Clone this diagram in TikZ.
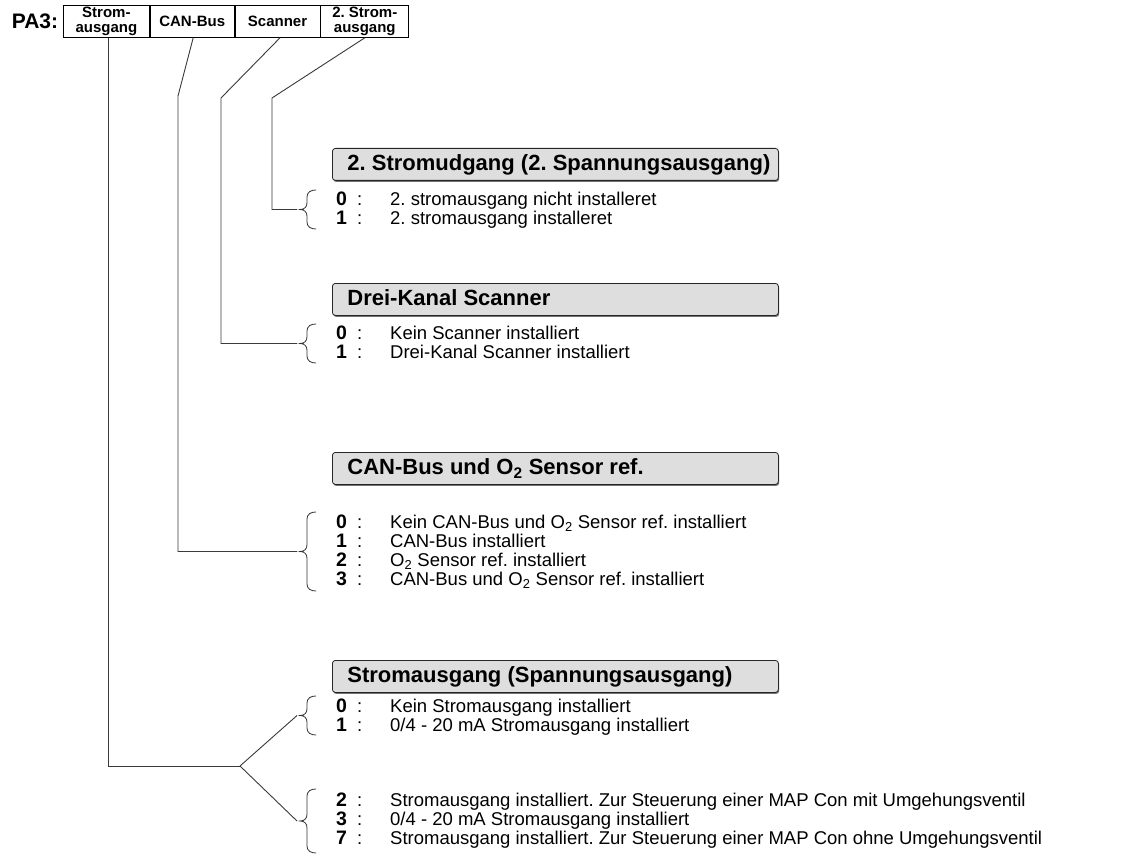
\documentclass[tikz,border=0pt]{standalone}
\usepackage{fontspec}
\setmainfont{Liberation Sans}
\usetikzlibrary{shadows}
\definecolor{hdrfill}{HTML}{DEDEDE}
\definecolor{linecol}{HTML}{3A3A3A}
\tikzset{
 cell/.style={draw=black, line width=0.8pt, minimum height=32pt, inner sep=0pt, anchor=north west, align=center, font=\fontsize{15}{15}\selectfont\bfseries},
 hdr/.style={draw=black!85, line width=0.8pt, fill=hdrfill, rounded corners=3pt, anchor=north west, minimum height=32pt, inner xsep=15pt, inner ysep=0pt, font=\fontsize{22}{25}\selectfont\bfseries, text height=16pt, text depth=4pt, drop shadow={shadow xshift=0.8pt, shadow yshift=-1.5pt, fill=black!55, opacity=1}},
 item/.style={anchor=base west, inner sep=0pt, font=\fontsize{18.5}{20}\selectfont},
 conn/.style={draw=linecol, line width=0.9pt},
 bracestyle/.style={draw=black!80, line width=0.8pt},
}
\newcommand{\bracedraw}[3]{%
 \pgfmathsetmacro\bmid{(#1+#2)/2}
 \draw[bracestyle] (316,#1) .. controls (311,#1) and (307,{#1+2}) .. (307,{#1+7}) -- (307,{\bmid-7}) .. controls (307,{\bmid-3}) and (305,\bmid) .. (300,\bmid) .. controls (305,\bmid) and (307,{\bmid+3}) .. (307,{\bmid+7}) -- (307,{#2-7}) .. controls (307,{#2-2}) and (311,#2) .. (316,#2);
 \coordinate (#3) at (300,\bmid);
}
\newcommand{\itm}[4]{\node[item] (#1) at (336,#2) {\makebox[21pt][l]{\bfseries\fontsize{19.5}{20}\selectfont #3}\makebox[33pt][l]{:}#4};}
\newcommand{\hdrtext}[1]{\makebox[416pt][l]{#1}}
\begin{document}
\frenchspacing
\begin{tikzpicture}[x=1pt,y=-1pt]
\useasboundingbox (0,0) rectangle (1128,856);
\fill[white] (0,0) rectangle (1128,856);

% top register
\node[font=\fontsize{21}{24}\selectfont\bfseries, inner sep=0pt] (pa) at (35,21) {PA3:};
\node[cell, minimum width=86pt] (c1) at (63,5) {Strom-\\ausgang};
\node[cell, minimum width=84pt] (c2) at (c1.north east) {CAN-Bus};
\node[cell, minimum width=85pt] (c3) at (c2.north east) {Scanner};
\node[cell, minimum width=88pt] (c4) at (c3.north east) {2. Strom-\\ausgang};

% section headers
\node[hdr] (h1) at (332,148) {\hdrtext{2. Stromudgang (2. Spannungsausgang)}};
\node[hdr] (h2) at (332,283) {\hdrtext{Drei-Kanal Scanner}};
\node[hdr] (h3) at (332,452) {\hdrtext{CAN-Bus und O\textsubscript{2} Sensor ref.}};
\node[hdr] (h4) at (332,660) {\hdrtext{Stromausgang (Spannungsausgang)}};

% items (baseline = centre + 6)
\itm{a0}{205}{0}{2. stromausgang nicht installeret}
\itm{a1}{224}{1}{2. stromausgang installeret}
\itm{b0}{339}{0}{Kein Scanner installiert}
\itm{b1}{358}{1}{Drei-Kanal Scanner installiert}
\itm{d0}{528}{0}{Kein CAN-Bus und O\textsubscript{2} Sensor ref. installiert}
\itm{d1}{547}{1}{CAN-Bus installiert}
\itm{d2}{566}{2}{O\textsubscript{2} Sensor ref. installiert}
\itm{d3}{585}{3}{CAN-Bus und O\textsubscript{2} Sensor ref. installiert}
\itm{e0}{712}{0}{Kein Stromausgang installiert}
\itm{e1}{731}{1}{0/4 - 20 mA Stromausgang installiert}
\itm{f2}{806}{2}{Stromausgang installiert. Zur Steuerung einer MAP Con mit Umgehungsventil}
\itm{f3}{825}{3}{0/4 - 20 mA Stromausgang installiert}
\itm{f7}{844}{7}{Stromausgang installiert. Zur Steuerung einer MAP Con ohne Umgehungsventil}

% braces
\bracedraw{190}{229}{br1}
\bracedraw{324}{363}{br2}
\bracedraw{512}{591}{br3}
\bracedraw{696}{735}{br4}
\bracedraw{789}{853}{br5}

% connectors
\coordinate (k2) at (178,96);
\coordinate (k3) at (221,98);
\coordinate (k4) at (272,98);
\coordinate (fork) at (240,766);
\draw[conn] ([xshift=2pt]c1.south) |- (fork);
\draw[conn] (fork) -- ([xshift=-3pt]br4);
\draw[conn] (fork) -- ([xshift=-3pt]br5);
\draw[conn] ([xshift=1pt]c2.south) -- (k2) |- ([xshift=-3pt]br3);
\draw[conn] ([xshift=2.5pt]c3.south) -- (k3) |- ([xshift=-3pt]br2);
\draw[conn] ([xshift=0pt]c4.south) -- (k4) |- ([xshift=-3pt]br1);
\end{tikzpicture}
\end{document}
